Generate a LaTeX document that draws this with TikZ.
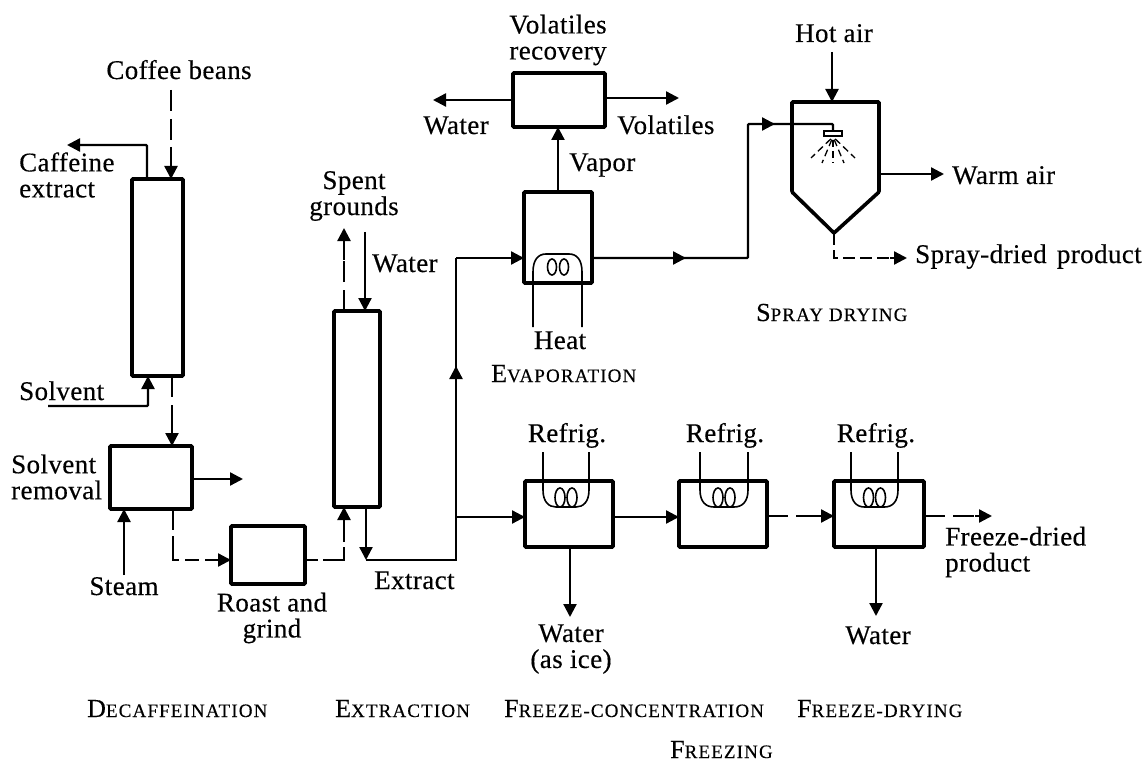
\documentclass[tikz,border=0pt]{standalone}
\usepackage{fontspec}
\setmainfont[FakeBold=0.35,LetterSpace=1.5]{Liberation Serif}
\usetikzlibrary{arrows.meta}
\newcommand{\scl}[2]{{\fontsize{26}{26}\selectfont #1}{\fontsize{19}{19}\selectfont\addfontfeature{LetterSpace=6} #2}}
\tikzset{
  box/.style={draw,line width=3.6pt,rounded corners=1pt,minimum width=0pt,inner sep=0pt,outer sep=0pt,anchor=north west},
  flow/.style={line width=2.3pt},
  arr/.style={flow,-{Triangle[length=13pt,width=13pt]}},
  dflow/.style={flow,dash pattern=on 21pt off 8pt},
  coil/.style={line width=1.6pt},
  lbl/.style={inner sep=0pt,font=\fontsize{27}{26}\selectfont,align=center},
  lft/.style={inner sep=0pt,font=\fontsize{27}{26}\selectfont,align=left,anchor=west},
  bl/.style={inner sep=0pt,font=\fontsize{27}{26}\selectfont,anchor=base},
  bw/.style={inner sep=0pt,font=\fontsize{27}{26}\selectfont,anchor=base west},
}
\newcommand{\bx}[5]{\node[box,minimum width=#4 pt,minimum height=#5 pt] (#1) at (#2,#3) {};}
\newcommand{\refcoil}[2]{% centre x, left half width
  \draw[coil] (#1-#2,481) -- (#1-#2,490) .. controls (#1-#2,502) and (#1-#2+6,507) .. (#1-10,507) -- (#1+10,507)
     .. controls (#1+#2-6,507) and (#1+#2,502) .. (#1+#2,490) -- (#1+#2,481);
  \draw[coil] (#1-6,497.5) ellipse (5pt and 9.5pt);
  \draw[coil] (#1+6,497.5) ellipse (5pt and 9.5pt);
}
\begin{document}
\begin{tikzpicture}[x=1pt,y=-1pt]
\useasboundingbox (0,0) rectangle (1143,762);

% vessels
\bx{col1}{132}{179}{51}{197}
\bx{srem}{110}{446}{82}{63}
\bx{roast}{231}{526}{74}{58}
\bx{col2}{334}{311}{46}{196}
\bx{volrec}{513}{73}{92}{54}
\bx{evap}{524}{192}{68}{91}
\bx{fc1}{525}{481}{88}{66}
\bx{fc2}{679}{481}{88}{66}
\bx{fd}{834}{481}{90}{66}
\draw[line width=3.6pt,rounded corners=1pt] (792,192) -- (792,102) -- (879,102) -- (879,192) -- (834,233) -- cycle;
\coordinate (sdtop) at (832,102);
\coordinate (sdapex) at (834,233);
\coordinate (sdright) at (879,174);
\coordinate (sdleft) at (792,124);

% text
\node[bl] (tcoffee) at (179,79) {Coffee beans};
\node[lft] (tcaff) at (19,175) {Caffeine\\extract};
\node[bw] (tsolv) at (19,400) {Solvent};
\node[lft] (tsrem) at (11,477) {Solvent\\removal};
\node[bl] (tsteam) at (124,595) {Steam};
\node[lbl] (troast) at (272,618) {Roast and\\grind};
\node[lbl] (tspent) at (354,196) {Spent\\grounds};
\node[bw] (twat) at (372,272) {Water};
\node[bw] (textr) at (374,589) {Extract};
\node[lbl] (tvolrec) at (558,40) {Volatiles\\recovery};
\node[bl] (twat2) at (456,134) {Water};
\node[bw] (tvol) at (617,134) {Volatiles};
\node[bw] (tvap) at (569,171) {Vapor};
\node[bl] (theat) at (560,349) {Heat};
\node[bl] (thot) at (834,42) {Hot air};
\node[bw] (twarm) at (952,184) {Warm air};
\node[bw] (tspd) at (915,263) {Spray-dried\kern3pt\ product};
\node[bl] (tref1) at (567,442) {Refrig.};
\node[bl] (tref2) at (725,442) {Refrig.};
\node[bl] (tref3) at (876,442) {Refrig.};
\node[lbl] (tice) at (571,649) {Water\\(as ice)};
\node[bl] (twat3) at (878,644) {Water};
\node[lft] (tfdp) at (945,552) {Freeze-dried\\product};
\node[bw] (sc1) at (87,717) {\scl{D}{ECAFFEINATION}};
\node[bw] (sc2) at (335,717) {\scl{E}{XTRACTION}};
\node[bw] (sc3) at (504,717) {\scl{F}{REEZE-CONCENTRATION}};
\node[bw] (sc4) at (797,717) {\scl{F}{REEZE-DRYING}};
\node[bw] (sc5) at (670,758) {\scl{F}{REEZING}};
\node[bw] (sc6) at (491,382) {\scl{E}{VAPORATION}};
\node[bw] (sc7) at (756,321) {\scl{S}{PRAY DRYING}};

% decaffeination
\coordinate (cbs) at (171,90);
\coordinate (cbm) at (171,147);
\draw[dflow] (cbs) -- (cbm);
\draw[arr] (cbm) -- (cbm |- col1.north);
\coordinate (cafb) at (147,179);
\coordinate (cafe) at (67,145);
\draw[arr,rounded corners=1pt] (cafb) |- (cafe);
\coordinate (sols) at (48,406);
\coordinate (sole) at (148,376);
\draw[arr,rounded corners=1pt] (sols) -| (sole);
\coordinate (c1o) at (172,376);
\coordinate (c1m) at (172,410);
\draw[dflow] (c1o) -- (c1m);
\draw[arr] (c1m) -- (c1m |- srem.north);
\coordinate (srout) at (243,479);
\draw[arr] (srem.east |- srout) -- (srout);
\coordinate (steam) at (124,575);
\draw[arr] (steam) -- (steam |- srem.south);
\coordinate (sro) at (173,509);
\coordinate (rin) at (roast.west |- 0,560);
\draw[flow,dash pattern=on 21pt off 6pt on 30pt off 6pt on 14pt off 6pt] (sro) |- (216,560);
\draw[arr] (216,560) -- (rin);
\coordinate (rout) at (roast.east |- 0,560);
\coordinate (c2in) at (344,507);
\draw[flow,dash pattern=on 13pt off 5pt on 34pt off 5pt on 20pt off 5pt] (rout) -| (344,532);
\draw[arr] (344,532) -- (c2in);

% extraction
\coordinate (spb) at (344,311);
\coordinate (spm) at (344,260);
\coordinate (spe) at (344,228);
\draw[dflow] (spb) -- (spm);
\draw[arr] (spm) -- (spe);
\coordinate (wats) at (365,232);
\draw[arr] (wats) -- (wats |- col2.north);
\coordinate (exo) at (366,507);
\coordinate (exe) at (366,560);
\draw[arr] (exo) -- (exe);
\coordinate (junc) at (456,517);
\coordinate (vm) at (456,366);
\draw[flow] (exe) -- (456,560) -- (456,258);
\draw[arr] (junc) -- (vm);
\draw[arr] (456,258) -- (evap.west |- 0,258);
\draw[arr] (junc) -- (fc1.west |- junc);

% evaporator
\draw[coil] (533,327) -- (533,272) .. controls (533,260) and (538,254) .. (546,254) -- (569,254)
   .. controls (577,254) and (582,260) .. (582,272) -- (582,327);
\draw[coil] (552,267) ellipse (4.5pt and 8pt);
\draw[coil] (564,267) ellipse (4.5pt and 8pt);
\draw[arr] (evap.north -| 558,0) -- (volrec.south -| 558,0);
\coordinate (wle) at (433,100);
\draw[arr] (volrec.west |- wle) -- (wle);
\coordinate (vre) at (679,98);
\draw[arr] (volrec.east |- vre) -- (vre);
\coordinate (eo) at (evap.east |- 0,258);
\coordinate (eom) at (686,258);
\coordinate (up) at (748,124);
\coordinate (upm) at (775,124);
\draw[flow,rounded corners=1pt] (eo) -| (up) -- (upm) -| (833,131);
\draw[arr] (eo) -- (eom);
\draw[arr] (up) -- (upm);

% spray dryer
\node[draw,line width=1.6pt,minimum width=18pt,minimum height=5pt,inner sep=0pt] (nozzle) at (833,133.5) {};
\foreach \ex/\ey in {811/158,822/163,833/163,844/163,855/158}
  \draw[line width=1.3pt,dash pattern=on 7pt off 4pt,dash phase=8pt] (nozzle.south) -- (\ex,\ey);
\coordinate (hot) at (832,52);
\draw[arr] (hot) -- (sdtop);
\coordinate (warm) at (944,174);
\draw[arr] (sdright) -- (warm);
\coordinate (sdm) at (890,258);
\draw[flow,dash pattern=on 12pt off 5pt] (sdapex) |- (sdm);
\draw[arr] (sdm) -- (907,258);

% freezing
\refcoil{566}{23}
\refcoil{724}{24}
\refcoil{874.5}{23.5}
\foreach \xx in {543,589,700,748,851,898}
  \draw[coil] (\xx,452) -- (\xx,481);
\draw[arr] (fc1.east |- junc) -- (fc2.west |- junc);
\coordinate (f2m) at (815,516);
\draw[dflow] (fc2.east |- f2m) -- (f2m);
\draw[arr] (f2m) -- (fd.west |- f2m);
\coordinate (f3m) at (975,516);
\draw[dflow] (fd.east |- f3m) -- (f3m);
\draw[arr] (f3m) -- (992,516);
\coordinate (w1) at (570,617);
\draw[arr] (w1 |- fc1.south) -- (w1);
\coordinate (w2) at (876,616);
\draw[arr] (w2 |- fd.south) -- (w2);
\end{tikzpicture}
\end{document}
